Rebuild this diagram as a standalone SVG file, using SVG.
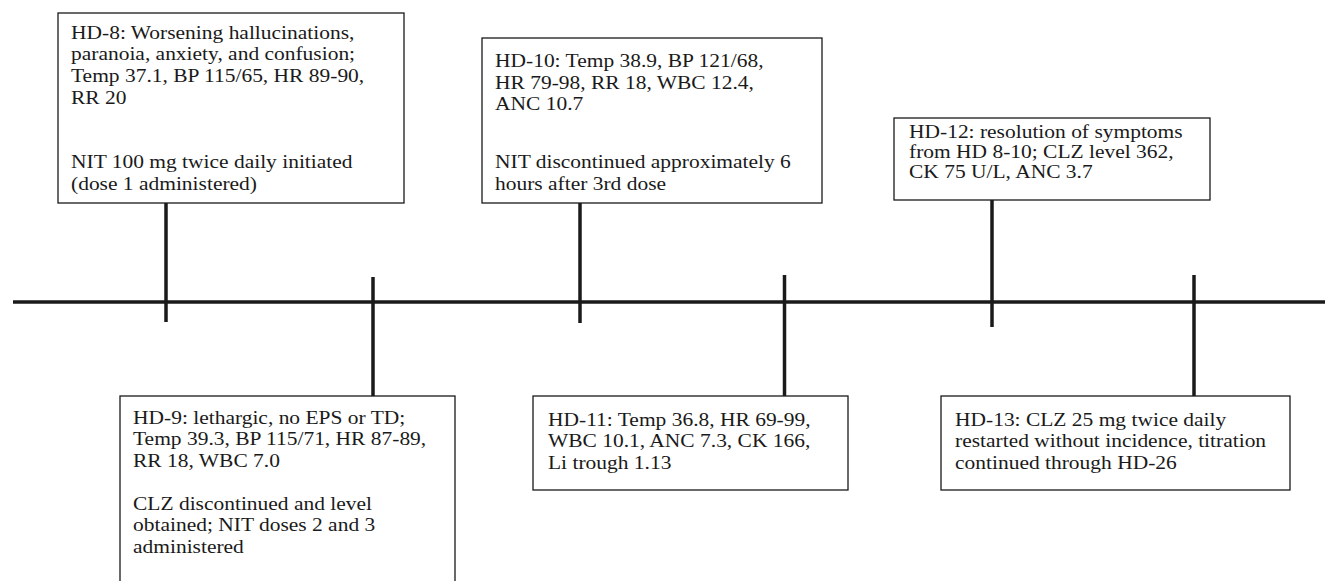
<svg xmlns="http://www.w3.org/2000/svg" width="1325" height="581" viewBox="0 0 1325 581">
<style>
.box{fill:#fff;stroke:#1a1a1a;stroke-width:1.3}
.t{font-family:"Liberation Serif","Times New Roman",serif;font-size:19px;fill:#1a1a1a}
.ln{stroke:#1a1a1a;stroke-width:3.5;fill:none}
</style>
<rect width="1325" height="581" fill="#fff"/>
<g id="connectors">
<line class="ln" x1="13" y1="302" x2="1325" y2="302"/>
<line class="ln" x1="166" y1="203" x2="166" y2="322"/>
<line class="ln" x1="373" y1="277" x2="373" y2="396"/>
<line class="ln" x1="580" y1="203" x2="580" y2="323"/>
<line class="ln" x1="784.5" y1="275" x2="784.5" y2="396"/>
<line class="ln" x1="992" y1="200" x2="992" y2="327"/>
<line class="ln" x1="1194" y1="275" x2="1194" y2="396"/>
</g>
<g id="hd8">
<rect class="box" x="58" y="13" width="346" height="190"/>
<text class="t" transform="translate(71,0) scale(1.13,1)">
<tspan x="0" y="39">HD-8: Worsening hallucinations,</tspan>
<tspan x="0" y="60.5">paranoia, anxiety, and confusion;</tspan>
<tspan x="0" y="82">Temp 37.1, BP 115/65, HR 89-90,</tspan>
<tspan x="0" y="104">RR 20</tspan>
<tspan x="0" y="168">NIT 100 mg twice daily initiated</tspan>
<tspan x="0" y="190">(dose 1 administered)</tspan>
</text>
</g>
<g id="hd10">
<rect class="box" x="482" y="38" width="340" height="165"/>
<text class="t" transform="translate(495,0) scale(1.13,1)">
<tspan x="0" y="67">HD-10: Temp 38.9, BP 121/68,</tspan>
<tspan x="0" y="89">HR 79-98, RR 18, WBC 12.4,</tspan>
<tspan x="0" y="110.5">ANC 10.7</tspan>
<tspan x="0" y="168">NIT discontinued approximately 6</tspan>
<tspan x="0" y="190">hours after 3rd dose</tspan>
</text>
</g>
<g id="hd12">
<rect class="box" x="894" y="118" width="316" height="82"/>
<text class="t" transform="translate(909,0) scale(1.13,1)">
<tspan x="0" y="138">HD-12: resolution of symptoms</tspan>
<tspan x="0" y="158">from HD 8-10; CLZ level 362,</tspan>
<tspan x="0" y="178">CK 75 U/L, ANC 3.7</tspan>
</text>
</g>
<g id="hd9">
<rect class="box" x="120" y="396" width="335" height="200"/>
<text class="t" transform="translate(133,0) scale(1.13,1)">
<tspan x="0" y="424">HD-9: lethargic, no EPS or TD;</tspan>
<tspan x="0" y="445.5">Temp 39.3, BP 115/71, HR 87-89,</tspan>
<tspan x="0" y="467">RR 18, WBC 7.0</tspan>
<tspan x="0" y="510">CLZ discontinued and level</tspan>
<tspan x="0" y="531.5">obtained; NIT doses 2 and 3</tspan>
<tspan x="0" y="553">administered</tspan>
</text>
</g>
<g id="hd11">
<rect class="box" x="533" y="396" width="315" height="94"/>
<text class="t" transform="translate(548,0) scale(1.13,1)">
<tspan x="0" y="426">HD-11: Temp 36.8, HR 69-99,</tspan>
<tspan x="0" y="447.5">WBC 10.1, ANC 7.3, CK 166,</tspan>
<tspan x="0" y="469">Li trough 1.13</tspan>
</text>
</g>
<g id="hd13">
<rect class="box" x="941" y="396" width="349" height="94"/>
<text class="t" transform="translate(955,0) scale(1.13,1)">
<tspan x="0" y="426">HD-13: CLZ 25 mg twice daily</tspan>
<tspan x="0" y="447.5">restarted without incidence, titration</tspan>
<tspan x="0" y="469">continued through HD-26</tspan>
</text>
</g>
</svg>
